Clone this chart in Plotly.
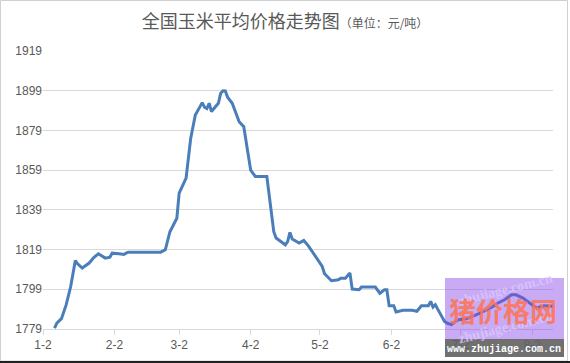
import plotly.graph_objects as go

# ---- data ----
dates = [
    "2017-01-07", "2017-01-08", "2017-01-10", "2017-01-12", "2017-01-14", "2017-01-16", "2017-01-17",
    "2017-01-19", "2017-01-22", "2017-01-24", "2017-01-26", "2017-01-29", "2017-01-31",
    "2017-02-01", "2017-02-04", "2017-02-06", "2017-02-07", "2017-02-08", "2017-02-22", "2017-02-23",
    "2017-02-24", "2017-02-26", "2017-02-28",
    "2017-03-01", "2017-03-02", "2017-03-03", "2017-03-05", "2017-03-07", "2017-03-09", "2017-03-12",
    "2017-03-13", "2017-03-14", "2017-03-15", "2017-03-16", "2017-03-19", "2017-03-20", "2017-03-21",
    "2017-03-22", "2017-03-23", "2017-03-25", "2017-03-28", "2017-03-30",
    "2017-04-02", "2017-04-04", "2017-04-09", "2017-04-12", "2017-04-13", "2017-04-17", "2017-04-18",
    "2017-04-19", "2017-04-20", "2017-04-23", "2017-04-25", "2017-04-27",
    "2017-05-03", "2017-05-04", "2017-05-07", "2017-05-10", "2017-05-11", "2017-05-13", "2017-05-15",
    "2017-05-16", "2017-05-19", "2017-05-20", "2017-05-26", "2017-05-28", "2017-05-30", "2017-05-31",
    "2017-06-01", "2017-06-03", "2017-06-04", "2017-06-07", "2017-06-11", "2017-06-13", "2017-06-15",
    "2017-06-18", "2017-06-19", "2017-06-20", "2017-06-21", "2017-06-23", "2017-06-25", "2017-06-26",
    "2017-06-28",
    "2017-07-01", "2017-07-04", "2017-07-07", "2017-07-11", "2017-07-16", "2017-07-18", "2017-07-21",
    "2017-07-24", "2017-07-26", "2017-07-29",
    "2017-08-01", "2017-08-04", "2017-08-07", "2017-08-10", "2017-08-11",
]
prices = [
    1779.5, 1782, 1784.2, 1791, 1800.4, 1813.5, 1811.8, 1809.7, 1812.2, 1815, 1816.9, 1814.7, 1815.2,
    1817.2, 1816.9, 1816.5, 1817.2, 1817.7, 1817.7, 1818.4, 1818.9, 1828, 1833,
    1834.8, 1847.4, 1849.9, 1855, 1875, 1886.8, 1893, 1890.7, 1890, 1892.7, 1888.5, 1892.7, 1897.7,
    1899, 1898.9, 1895.7, 1892.7, 1883.4, 1880.9,
    1859, 1855.8, 1855.8, 1828, 1824.8, 1821.4, 1823, 1827.6, 1824.3, 1822.3, 1823.6, 1820.9,
    1810.5, 1806.8, 1803.3, 1803.8, 1804.6, 1804.6, 1807.2, 1799.1, 1798.8, 1800.1, 1800.1, 1797,
    1798.8, 1798.8,
    1790.7, 1790.7, 1787.6, 1788.4, 1788.4, 1787.9, 1790.7, 1790.7, 1792.9, 1790, 1791.2, 1787,
    1782.8, 1782, 1781.2,
    1783.7, 1784, 1785.3, 1787.3, 1790.4, 1792, 1793.7, 1796.2, 1796.2, 1794.6,
    1792, 1789.6, 1790.7, 1790.4, 1790.4,
]
tick_dates = ["2017-01-02", "2017-02-02", "2017-03-02", "2017-04-02",
              "2017-05-02", "2017-06-02", "2017-07-02", "2017-08-02"]
tick_labels = ["1-2", "2-2", "3-2", "4-2", "5-2", "6-2", "7-2", "8-2"]
y_ticks = [1779, 1799, 1819, 1839, 1859, 1879, 1899, 1919]

title_main = "全国玉米平均价格走势图"
title_unit = "（单位：元/吨）"
wm_cn = "猪价格网"
wm_url = "www.zhujiage.com.cn"
wm_diag = "zhujiage.com.cn"

# ---- layout geometry (pixels) ----
W, H = 570, 363
L, R, T, B = 43, 553, 51, 329


def px(xp):
    return (xp - L) / (R - L)


def py(yp):
    return (B - yp) / (B - T)


fig = go.Figure()
fig.add_trace(go.Scatter(
    x=dates, y=prices, mode="lines",
    line=dict(color="#4A7EBB", width=3),
    hoverinfo="x+y", showlegend=False,
))

font_cjk = "Noto Sans CJK SC, Microsoft YaHei, sans-serif"

shapes = [
    # chart border
    dict(type="rect", xref="paper", yref="paper", x0=px(0.5), x1=px(567.5), y0=py(0.5), y1=py(361),
         line=dict(color="#d0d0d0", width=1), layer="below"),
    dict(type="line", xref="paper", yref="paper", x0=px(0), x1=px(570), y0=py(362), y1=py(362),
         line=dict(color="#202020", width=2)),
    # watermark
    dict(type="rect", xref="paper", yref="paper", x0=px(445), x1=px(564), y0=py(278), y1=py(339),
         fillcolor="#8543E9", opacity=0.45, line=dict(width=0), layer="above"),
    dict(type="rect", xref="paper", yref="paper", x0=px(445), x1=px(564), y0=py(339), y1=py(357),
         fillcolor="#606060", opacity=0.9, line=dict(width=0), layer="above"),
]


def ann(text, x, y, font, angle=0):
    return dict(text=text, xref="paper", yref="paper", x=px(x), y=py(y),
                xanchor="center", yanchor="middle", showarrow=False,
                textangle=angle, font=font)


diag_font = dict(family="Liberation Serif", size=14, color="rgba(220,200,255,0.8)")
annotations = [
    ann(f"<b>{wm_diag}</b>", 505, 289, diag_font, -14),
    ann(f"<b>{wm_diag}</b>", 505, 327, diag_font, -14),
    ann(f"<b>{wm_cn}</b>", 503, 310, dict(family=font_cjk, size=27, color="rgba(255,115,80,0.85)")),
    ann(f"<b>{wm_url}</b>", 504, 349, dict(family="Liberation Mono", size=10, color="#ffffff")),
]

fig.update_layout(
    width=W, height=H,
    margin=dict(l=L, r=W - R, t=T, b=H - B),
    paper_bgcolor="white", plot_bgcolor="white",
    title=dict(
        text=f"{title_main}<span style='font-size:12px'>{title_unit}</span>",
        x=0.5, xref="container", xanchor="center",
        y=1 - 22 / H, yref="container", yanchor="middle",
        font=dict(family=font_cjk, size=18, color="#595959"),
    ),
    xaxis=dict(
        type="date", range=["2017-01-02", "2017-08-11"],
        tickvals=tick_dates, ticktext=tick_labels,
        showgrid=False, showline=True, linecolor="#d9d9d9", linewidth=1,
        ticks="outside", ticklen=5, tickcolor="#d9d9d9",
        tickfont=dict(family="Liberation Sans, Arial", size=12, color="#595959"),
        zeroline=False, fixedrange=True,
    ),
    yaxis=dict(
        range=[1779, 1919], tickvals=y_ticks,
        showgrid=True, gridcolor="#d9d9d9", gridwidth=1,
        showline=False, zeroline=False, ticks="",
        tickfont=dict(family="Liberation Sans, Arial", size=12, color="#595959"),
        fixedrange=True,
    ),
    shapes=shapes,
    annotations=annotations,
)

fig.write_html("out.html")
